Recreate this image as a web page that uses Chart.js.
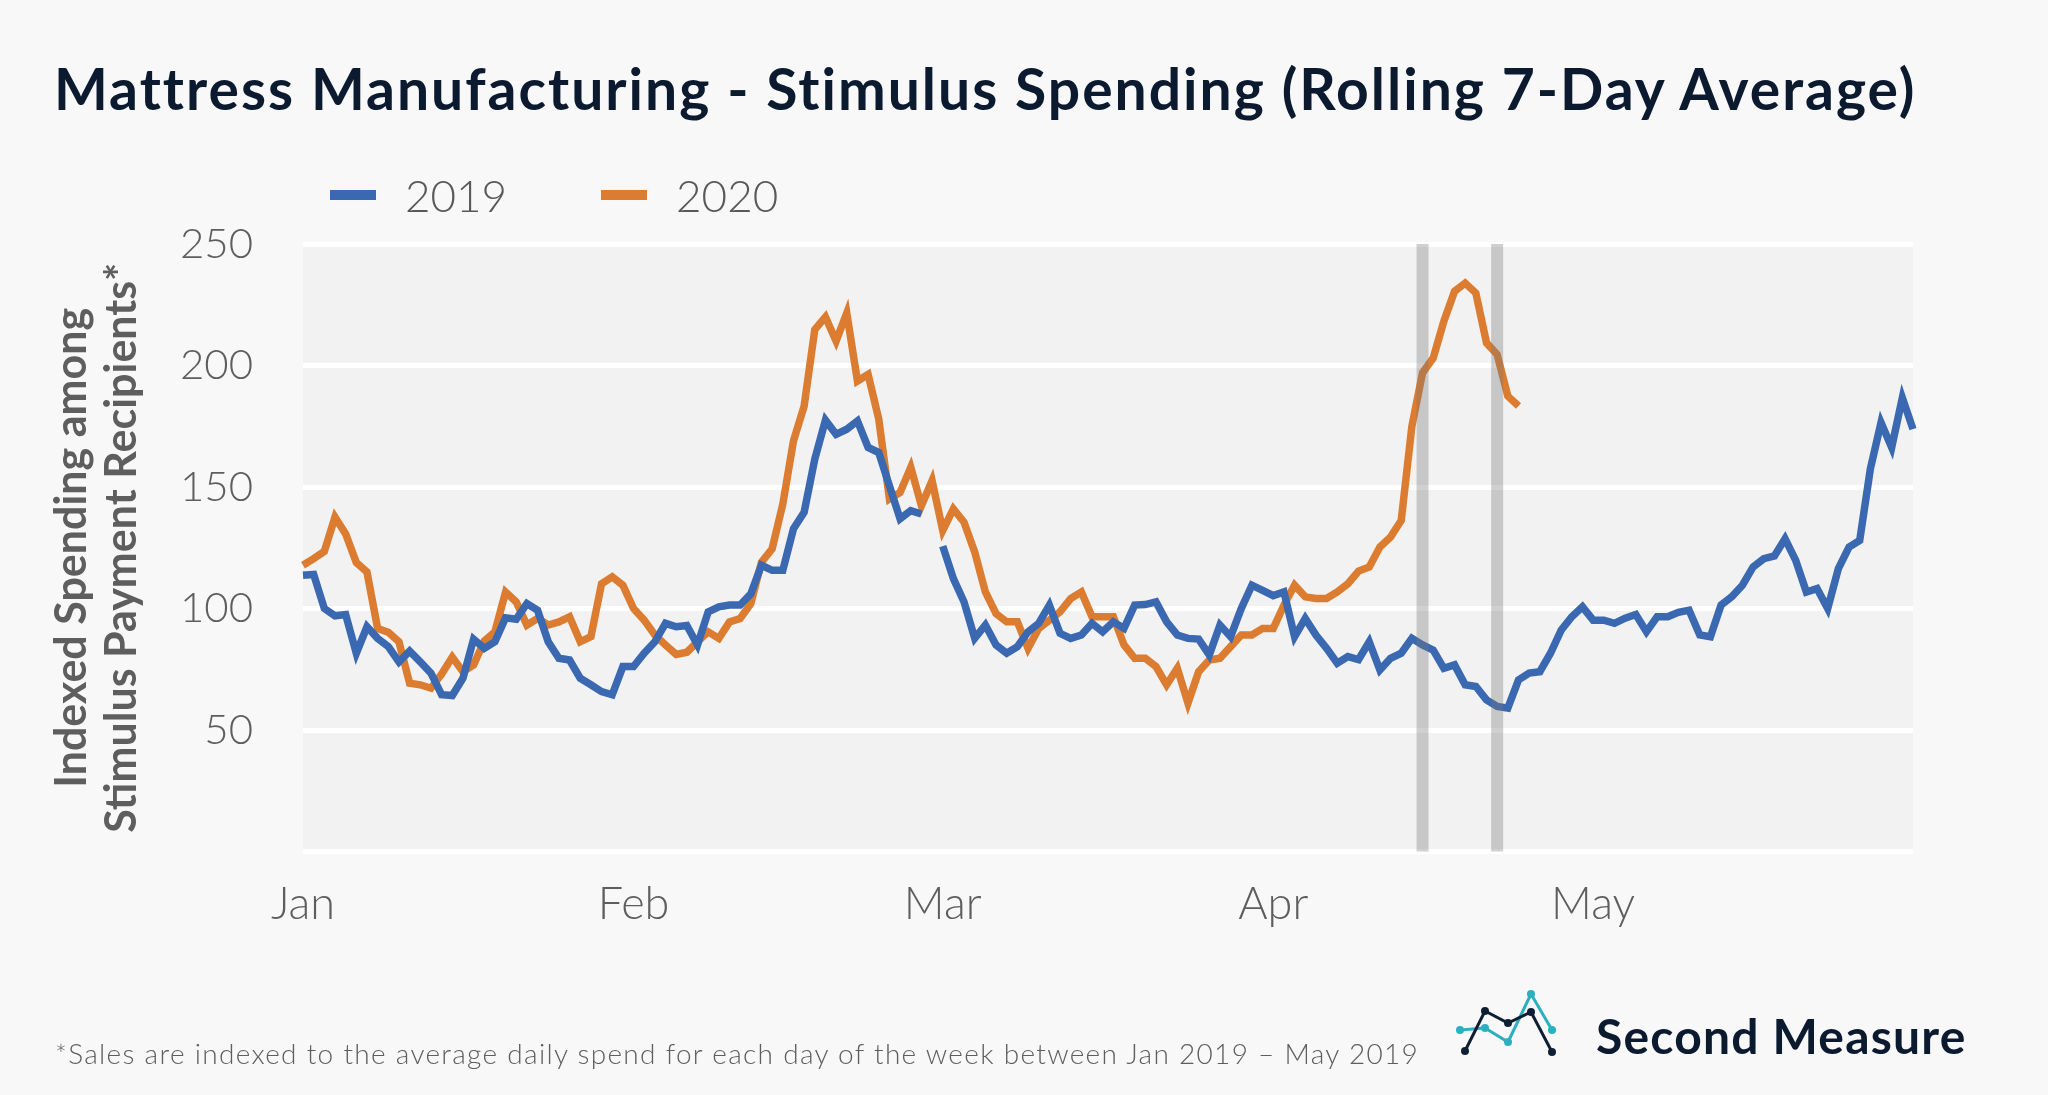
<!DOCTYPE html>
<html>
<head>
<meta charset="utf-8">
<script src="https://cdn.jsdelivr.net/npm/chart.js@4.4.1/dist/chart.umd.min.js"></script>
<style>
  html, body { margin: 0; padding: 0; background: #f8f8f8; }
  #wrap { position: relative; width: 2048px; height: 1095px; overflow: hidden; font-family: Lato, "Open Sans", sans-serif; }
  #chart { position: absolute; left: 0; top: 0; }
  .txt { position: absolute; line-height: 1; white-space: nowrap; }
  #title { left: 54px; top: 60px; font-size: 57px; font-weight: 700; letter-spacing: 2px; color: #0b1a2e; }
  #legend { left: 330px; top: 173px; display: flex; align-items: center; font-size: 44px; font-weight: 300; color: #595959; }
  .item { display: flex; align-items: center; margin-right: 94px; }
  .swatch { width: 46px; height: 10px; margin-right: 29px; }
  #note { left: 55px; top: 1039px; font-size: 28px; font-weight: 300; letter-spacing: 1.3px; color: #5e5e5e; }
  #brand { left: 1596px; top: 1012px; font-size: 48px; font-weight: 700; letter-spacing: 1.2px; color: #0b1a2e; }
  #logo { position: absolute; left: 1455px; top: 985px; }
</style>
</head>
<body>
<div id="wrap">
  <canvas id="chart" width="2048" height="1095"></canvas>
  <div class="txt" id="title">Mattress Manufacturing - Stimulus Spending (Rolling 7-Day Average)</div>
  <div class="txt" id="legend"></div>
  <div class="txt" id="note">*Sales are indexed to the average daily spend for each day of the week between Jan 2019 – May 2019</div>
  <svg id="logo" width="110" height="80" viewBox="0 0 110 80">
    <polyline points="5,45 30,43 53,57 76,9 97,45" fill="none" stroke="#2bb0c0" stroke-width="3"/>
    <polyline points="10,66 30,26 53,38 76,27 97,67" fill="none" stroke="#0f1f33" stroke-width="3"/>
    <g fill="#2bb0c0"><circle cx="5" cy="45" r="4"/><circle cx="30" cy="43" r="4"/><circle cx="53" cy="57" r="4"/><circle cx="76" cy="9" r="4"/><circle cx="97" cy="45" r="4"/></g>
    <g fill="#0f1f33"><circle cx="10" cy="66" r="4"/><circle cx="30" cy="26" r="4"/><circle cx="53" cy="38" r="4"/><circle cx="76" cy="27" r="4"/><circle cx="97" cy="67" r="4"/></g>
  </svg>
  <div class="txt" id="brand">Second Measure</div>
</div>
<script>
// Sumbu waktu: 1 Jan - 31 Mei (kalender 2020, Feb 29 hari)
const monthNames = ["Jan", "Feb", "Mar", "Apr", "May"];
const monthLengths = [31, 29, 31, 30, 31];

// garis abu-abu: tanggal pembayaran stimulus
const stimulusDates = ["Apr 15", "Apr 22"];

// Indeks belanja, rata-rata 7 hari (2019 tidak punya 29 Feb -> null)
const spend2019 = [
  113.7, 114, 100, 97, 97.5, 81.6, 92.5, 87.7, 84.3, 78, 82.5, 78, 73.4, 64.5, 64.2, 71.3,
  87.4, 83.6, 86.3, 96.2, 95.6, 102, 99.3, 86.3, 79.5, 78.8, 71.3, 68.6, 65.8, 64.5, 76.1,
  76.1, 81.6, 86.3, 93.9, 92.5, 93, 85, 98.6, 100.7, 101.4, 101.4, 106, 117.8, 115.7, 115.7,
  132.8, 139.6, 161.5, 177.5, 171.7, 173.8, 177.2, 166.3, 164.2, 150.5, 136.9, 140.3, 138.9,
  null,
  125.7, 112.3, 102.7, 87.7, 93.2, 85, 81.6, 84.3, 90.4, 93.9, 101.4, 89.8, 87.7, 89.1, 93.9,
  90.4, 94.5, 91.8, 101.4, 101.6, 102.7, 94.5, 89.1, 87.7, 87.4, 80.9, 93.2, 88.4, 100, 109.6,
  107.5, 105.3, 106.8, 88.4, 95.9, 89.1, 83.6, 77.5, 80.2, 79, 86.3, 74.7, 79.5, 81.6, 87.7,
  85, 82.9, 75.4, 76.8, 68.6, 67.9, 62.4, 59.7, 59, 70.6, 73.4, 74, 81.6, 91.1, 96.6, 100.7,
  95.2, 95.2, 93.9, 96, 97.5, 90.4, 96.6, 96.6, 98.4, 99.3, 89.1, 88.4, 101.4, 104.8, 109.6,
  117.1, 120.5, 121.6, 128.7, 119.8, 106.8, 108.2, 100, 116.4, 125.3, 128, 157.4, 176.5,
  166.3, 186.7, 173.8
];

const spend2020 = [
  117.8, 120.5, 123.5, 137.6, 130.7, 118.9, 115, 91.8, 90.2, 86.3, 69.3, 68.6, 67.2, 73, 80,
  74, 76.8, 86.6, 90.4, 106.8, 102.7, 93.2, 95.9, 93.2, 94.5, 96.6, 86.3, 88.4, 110.2, 113,
  109.6, 100, 95.2, 89.1, 85, 81.1, 82, 86.3, 90.4, 87.7, 94.5, 95.9, 102, 119.1, 124.6, 143,
  169, 183.3, 214.8, 220, 210, 221.6, 193.6, 196.3, 177.9, 145.1, 147.8, 158.1, 142.3, 152.6,
  132.1, 141, 135.5, 123.2, 106.8, 97.9, 94.5, 94.5, 83.6, 91.8, 95.2, 98.6, 104.1, 106.8,
  96.6, 96.6, 96.6, 85, 79.5, 79.5, 76.1, 68.6, 75.4, 61.1, 74, 78.8, 79.5, 84.3, 89.1, 89.1,
  91.8, 91.8, 101.4, 109.6, 104.8, 104.1, 104.1, 106.8, 110.2, 115.4, 117.1, 125.3, 129.4,
  136.2, 175, 197, 203.1, 218.2, 230.5, 233.9, 229.8, 209.3, 204.5, 187.4, 183.3
];

const seriesNames = ["2019", "2020"];
const seriesColors = ["#3a69b1", "#db7c31"];

// label harian + posisi awal bulan
const dayLabels = [];
const monthStarts = [];
monthNames.forEach((m, i) => {
  monthStarts.push(dayLabels.length);
  for (let d = 1; d <= monthLengths[i]; d++) dayLabels.push(m + " " + d);
});

// legenda HTML
const legendBox = document.getElementById("legend");
seriesNames.forEach((name, i) => {
  const item = document.createElement("div");
  item.className = "item";
  item.innerHTML = `<span class="swatch" style="background:${seriesColors[i]}"></span><span>${name}</span>`;
  legendBox.appendChild(item);
});

// latar area plot
const plotBackground = {
  id: "plotBackground",
  beforeDraw(chart) {
    const { ctx, chartArea: a } = chart;
    ctx.save();
    ctx.fillStyle = "#f2f2f2";
    ctx.fillRect(a.left, a.top, a.right - a.left, a.bottom - a.top);
    ctx.restore();
  },
};

// garis vertikal abu-abu transparan
const stimulusBands = {
  id: "stimulusBands",
  afterDatasetsDraw(chart) {
    const { ctx, chartArea: a, scales } = chart;
    ctx.save();
    ctx.fillStyle = "rgba(120,120,120,0.35)";
    stimulusDates.forEach((d) => {
      const x = scales.x.getPixelForValue(dayLabels.indexOf(d));
      ctx.fillRect(x - 6, a.top, 12, a.bottom - a.top);
    });
    ctx.restore();
  },
};

const tickFont = { family: "Lato, 'Open Sans', sans-serif", size: 42, weight: 300 };

new Chart(document.getElementById("chart"), {
  type: "line",
  data: {
    labels: dayLabels,
    datasets: [
      {
        label: seriesNames[0],
        data: spend2019,
        borderColor: seriesColors[0],
        borderWidth: 7.5,
        pointRadius: 0,
        tension: 0,
        spanGaps: false,
      },
      {
        label: seriesNames[1],
        data: spend2020,
        borderColor: seriesColors[1],
        borderWidth: 7.5,
        pointRadius: 0,
        tension: 0,
      },
    ],
  },
  options: {
    responsive: false,
    animation: false,
    layout: { padding: { top: 244, right: 135, bottom: 133.5, left: 0 } },
    plugins: { legend: { display: false }, tooltip: { enabled: false } },
    scales: {
      x: {
        grid: { display: false },
        border: { display: false },
        afterFit(scale) { scale.height = 110; },
        afterBuildTicks(scale) { scale.ticks = monthStarts.map((v) => ({ value: v })); },
        ticks: {
          autoSkip: false,
          maxRotation: 0,
          padding: 18,
          color: "#5e5e5e",
          font: { ...tickFont, size: 45 },
          callback: (value, index) => monthNames[index],
        },
      },
      y: {
        min: 0,
        max: 250,
        afterFit(scale) { scale.width = 303; },
        grid: { color: "#ffffff", lineWidth: 5, drawTicks: false },
        border: { display: false },
        ticks: {
          stepSize: 50,
          padding: 50,
          color: "#5e5e5e",
          font: tickFont,
          callback: (v) => (v === 0 ? "" : v),
        },
        title: {
          display: true,
          text: ["Indexed Spending among", "Stimulus Payment Recipients*"],
          color: "#5e5e5e",
          font: { family: "Lato, 'Open Sans', sans-serif", size: 43, weight: 700, lineHeight: "50px" },
          padding: { top: 47, bottom: 0 },
        },
      },
    },
  },
  plugins: [plotBackground, stimulusBands],
});
</script>
</body>
</html>
